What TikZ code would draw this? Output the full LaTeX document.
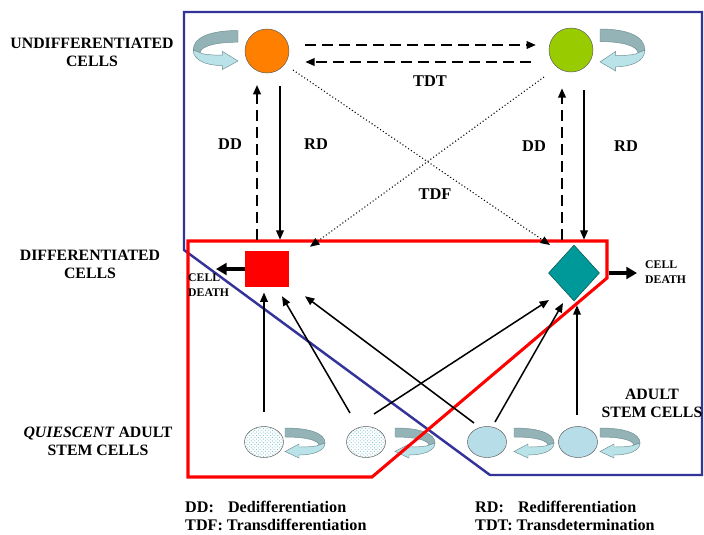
\documentclass[tikz,border=0pt]{standalone}
\usepackage{fontspec}
\setmainfont{Liberation Serif}
\usepackage{xcolor}
\usepackage{tikz}
\usetikzlibrary{shapes,arrows,positioning,calc,patterns,arrows.meta}

\definecolor{undiffA}{HTML}{FF8000}
\definecolor{undiffB}{HTML}{99CC00}
\definecolor{diffB}{HTML}{009999}
\definecolor{frameblue}{HTML}{333399}
\definecolor{stemblue}{HTML}{B7DEE8}
\definecolor{stemdots}{HTML}{7FC3D0}
\definecolor{loopdark}{HTML}{93B3B7}
\definecolor{looplight}{HTML}{B9E3E8}
\definecolor{loopedge}{HTML}{6E8F93}

\tikzset{
  cellcirc/.style={circle, draw=gray!70!black, thin, minimum size=1.32cm, inner sep=0pt},
  stemcell/.style={ellipse, draw=gray!70!black, thin, minimum width=1.17cm, minimum height=0.93cm, inner sep=0pt},
  lbl/.style={font=\fontsize{13.5}{15.5}\selectfont\bfseries, align=center},
  tag/.style={font=\fontsize{14}{16}\selectfont\bfseries},
  deathlbl/.style={font=\fontsize{10}{12.5}\selectfont\bfseries, align=left, anchor=west, inner sep=0pt},
  legend/.style={font=\fontsize{13.8}{15.4}\selectfont\bfseries, align=left, anchor=west, inner sep=0pt},
  solidarrow/.style={-{Triangle[length=8pt,width=6.5pt]}, line width=1.3pt},
  dasharrow/.style={-{Triangle[length=8pt,width=6.5pt]}, line width=1.6pt, dash pattern=on 9pt off 5.5pt},
  dotarrow/.style={-{Triangle[length=8pt,width=6.5pt]}, line width=0.9pt, dotted},
  deatharrow/.style={-{Triangle[length=9pt,width=10pt]}, line width=2.6pt},
  pics/selfloop/.style={code={
    \path[fill=loopdark, draw=loopedge, thin] (0,-15) .. controls (24,-15) and (40,-10) .. (40,0)
      -- (34,2) .. controls (33,-3) and (20,-6) .. (0,-6) -- cycle;
    \path[fill=looplight, draw=loopedge, thin] (40,0) .. controls (40,8) and (28,12) .. (14,12)
      -- (14,15) -- (0,8.5) -- (14,1) -- (14,4) .. controls (26,4) and (33,3) .. (34,2) -- cycle;
  }}
}

\begin{document}
\begin{tikzpicture}[x=0.03cm, y=-0.03cm]
    \useasboundingbox[fill=white] (0,0) rectangle (704,534);

    % self-renewal loops
    \pic[xscale=-1.12, yscale=1.3] at (238,50) {selfloop};
    \pic[xscale=1.12, yscale=1.4] at (600,50) {selfloop};
    \foreach \x in {285,395,514,600}
        \pic at (\x,443) {selfloop};

    % compartments
    \draw[frameblue, line width=2.1pt] (184,12) -- (702,12) -- (702,475) -- (490,475) -- (184,250) -- cycle;
    \draw[red, line width=2.6pt] (188,241) -- (607,241) -- (607,278) -- (372,477) -- (188,477) -- cycle;

    % cells
    \node[cellcirc, fill=undiffA] (orange) at (267,51) {};
    \node[cellcirc, fill=undiffB] (green) at (571,50) {};
    \node[rectangle, fill=red, minimum width=1.32cm, minimum height=1.08cm, inner sep=0pt] (square) at (267,269) {};
    \node[diamond, fill=diffB, draw=diffB!50!black, thin, minimum width=1.53cm, minimum height=1.68cm, inner sep=0pt] (diamond) at (574,273) {};
    \node[stemcell, pattern=crosshatch dots, pattern color=stemdots] (e1) at (264,442) {};
    \node[stemcell, pattern=crosshatch dots, pattern color=stemdots] (e2) at (366,442) {};
    \node[stemcell, fill=stemblue] (e3) at (487,442) {};
    \node[stemcell, fill=stemblue] (e4) at (578,442) {};

    % row labels
    \node[lbl] (undiff) at (92,52) {UNDIFFERENTIATED\\CELLS};
    \node[lbl] (diff) at (90,264) {DIFFERENTIATED\\CELLS};
    \node[lbl] (quiet) at (98,441) {\textit{QUIESCENT} ADULT\\STEM CELLS};
    \node[lbl] (adult) at (652,403) {ADULT\\STEM CELLS};

    % de- and redifferentiation
    \draw[dasharrow, shorten <=9.4pt, shorten >=10pt] ([shift={(-10,0)}]square.north) -- ([shift={(-10,0)}]orange.south);
    \draw[solidarrow, shorten <=11pt, shorten >=9.4pt] ([shift={(13,0)}]orange.south) -- ([shift={(13,0)}]square.north);
    \draw[dasharrow, shorten <=4.3pt, shorten >=13.7pt] ([shift={(-12,0)}]diamond.north) -- ([shift={(-9,0)}]green.south);
    \draw[solidarrow, shorten <=15.4pt, shorten >=4.3pt] ([shift={(13,0)}]green.south) -- ([shift={(10,0)}]diamond.north);
    \node[tag] (ddL) at (230,144) {DD};
    \node[tag] (rdL) at (316,144) {RD};
    \node[tag] (ddR) at (534,146) {DD};
    \node[tag] (rdR) at (626,146) {RD};

    % transdetermination
    \draw[dasharrow, shorten <=13.7pt, shorten >=11pt] ([shift={(0,-6)}]orange.east) -- ([shift={(0,-5)}]green.west);
    \draw[dasharrow, shorten <=15.4pt, shorten >=13.7pt] ([shift={(0,12)}]green.west) -- ([shift={(0,11)}]orange.east);
    \node[tag] (tdt) at (430,81) {TDT};

    % transdifferentiation
    \draw[dotarrow] ([shift={(26,19)}]orange.center) -- ([shift={(-24,-28)}]diamond.center);
    \draw[dotarrow] ([shift={(-27,27)}]green.center) -- ([shift={(43,-4)}]square.north);
    \node[tag] (tdf) at (435,194) {TDF};

    % cell death
    \coordinate (deathL) at (216,269);
    \coordinate (deathR) at (637,273);
    \draw[deatharrow] (square.west) -- (deathL);
    \draw[deatharrow, shorten <=7.5pt] (diamond.east) -- (deathR);
    \node[deathlbl] (cdL) at (188,285) {CELL\\DEATH};
    \node[deathlbl] (cdR) at (645,272) {CELL\\DEATH};

    % from adult stem cells
    \draw[solidarrow, shorten <=12pt, shorten >=4.5pt] (e1.north) -- (e1.north |- square.south);
    \draw[solidarrow] ([shift={(-16,-29)}]e2.center) -- ([shift={(15,9)}]square.south);
    \draw[solidarrow] ([shift={(-13,-19)}]e3.center) -- ([shift={(38,9)}]square.south);
    \draw[solidarrow] ([shift={(8,-28)}]e2.center) -- ([shift={(-25,27)}]diamond.center);
    \draw[solidarrow] ([shift={(8,-20)}]e3.center) -- ([shift={(-11,30)}]diamond.center);
    \draw[solidarrow, shorten <=10pt, shorten >=3.5pt] ([shift={(-1,0)}]e4.north) -- ([shift={(-1,0)}]e4.north |- diamond.south);

    % legend
    \node[legend] (legL) at (185,516) {DD:\hspace{12pt}Dedifferentiation\\TDF: Transdifferentiation};
    \node[legend] (legR) at (475,516) {RD:\hspace{12pt}Redifferentiation\\TDT: Transdetermination};
\end{tikzpicture}
\end{document}
